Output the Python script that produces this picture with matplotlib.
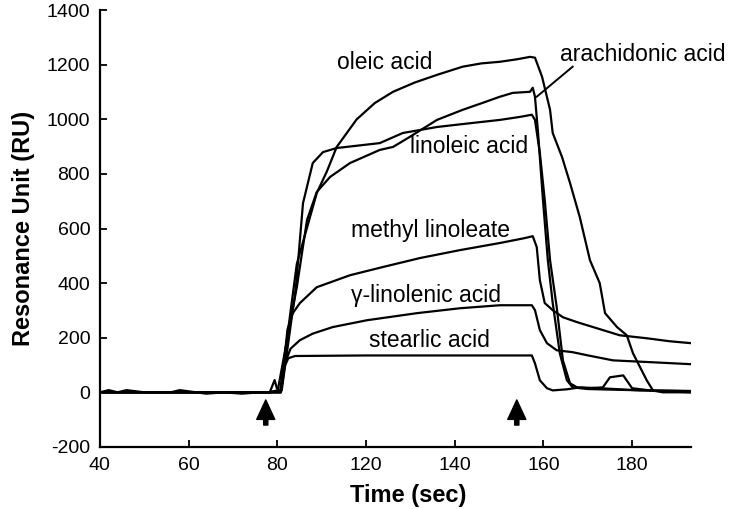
import matplotlib as mpl
import matplotlib.pyplot as plt

mpl.rcParams['font.family'] = ['Liberation Sans', 'DejaVu Sans']
mpl.rcParams['xtick.labelsize'] = 14
mpl.rcParams['ytick.labelsize'] = 14
mpl.rcParams['axes.unicode_minus'] = False

# sensorgram traces (time along the plotted axis, resonance units)
t_oleic = [40, 42, 44, 46, 50, 56, 58, 64, 68, 72, 76, 80.6, 84.4, 88.9, 91.2, 93.4, 97.9, 102,
           106.1, 111, 116, 121.8, 126, 130.2, 134, 137.0, 138.1, 139.7, 141.5, 142.1, 144.2,
           146.0, 148.2, 150.5, 152.7, 153.9, 156.6, 158.8, 160.2, 163.3, 164.7, 166.9, 173.3]
ru_oleic = [0, 8, 0, 8, 0, 0, 8, -5, 0, -5, 0, 0, 470, 730, 810, 899, 1000, 1060,
            1101, 1135, 1163, 1193, 1205, 1211, 1220, 1229, 1226, 1156, 1035, 950, 862,
            767, 642, 484, 400, 290, 239, 209, 143, 44, 7, 0, 0]

t_arach = [40, 78, 80.1, 84.4, 86.7, 88.9, 91.9, 96.4, 103.1, 106.1, 109.9, 116.0, 121.8, 126.4,
           130.2, 133.1, 137.0, 137.6, 138.1, 138.8, 139.9, 141.0, 142.1, 143.7, 145.3, 146.6,
           150, 160, 173.3]
ru_arach = [0, 0, 7, 385, 631, 734, 789, 840, 888, 899, 936, 998, 1035, 1061,
            1083, 1097, 1101, 1116, 1083, 950, 705, 484, 327, 143, 44, 18,
            12, 8, 5]

t_linol = [40, 78, 81.0, 84.2, 85.8, 88.0, 90.3, 93.4, 103.1, 108.3, 116, 123, 130.2, 134.7,
           137.4, 138.1, 139.2, 140.3, 141.5, 143.0, 144.4, 146.0, 147.6, 150, 153.4, 155.0,
           158.0, 160.0, 165, 173.3]
ru_linol = [0, 0, 7, 385, 693, 840, 880, 895, 913, 950, 972, 985, 998, 1009,
            1017, 998, 877, 705, 484, 312, 117, 33, 18, 15, 18, 55,
            62, 15, 5, 0]

t_methyl = [40, 78, 80.8, 82.3, 83.5, 85.1, 88.9, 96.4, 103.8, 112.2, 121.2, 130.2, 135.8, 137.6,
            138.5, 139.2, 140.3, 142.1, 144.4, 147.6, 151.2, 157.2, 163.3, 168.5, 173.3]
ru_methyl = [0, 0, 0, 230, 290, 327, 385, 429, 459, 492, 521, 547, 565, 572,
             532, 411, 327, 301, 275, 257, 239, 209, 198, 187, 180]

t_gamma = [40, 78.3, 79.4, 79.9, 80.8, 81.8, 83.0, 85.1, 88, 92.5, 100.2, 111.5, 121.2, 130.2,
           137.4, 138.1, 139.2, 140.8, 143.0, 146.6, 149.8, 155.7, 164.7, 173.3]
ru_gamma = [0, 0, 45, 15, 0, 110, 160, 191, 215, 239, 264, 290, 308, 319,
            319, 301, 228, 180, 154, 147, 136, 117, 110, 103]

t_stear = [40, 78, 80.8, 81.5, 82.5, 84, 100, 120, 137.4, 138.1, 139.2, 140.8, 142.1, 145.3,
           148.2, 152.7, 161.8, 173.3]
ru_stear = [0, 0, 0, 90, 125, 133, 135, 135, 135, 106, 44, 15, 7, 11,
            18, 15, 7, 4]

xticks = [40, 60, 80, 100, 120, 140, 160]
xticklabels = ['40', '60', '80', '120', '140', '160', '180']
yticks = [-200, 0, 200, 400, 600, 800, 1000, 1200, 1400]
injections = [77.4, 134.0]

fig = plt.figure(figsize=(7.29, 5.09), dpi=100)
ax = fig.add_axes([0.137, 0.122, 0.811, 0.858])

for t, ru in [(t_oleic, ru_oleic), (t_arach, ru_arach), (t_linol, ru_linol),
              (t_methyl, ru_methyl), (t_gamma, ru_gamma), (t_stear, ru_stear)]:
  ax.plot(t, ru, 'k-', lw=1.6)

# labels
ax.text(104.3, 1207, 'oleic acid', fontsize=16.5, ha='center', va='center')
ax.text(162.5, 1237, 'arachidonic acid', fontsize=16.5, ha='center', va='center')
ax.plot([138.5, 146.6], [1083, 1193], 'k-', lw=1.4)
ax.text(123.2, 899, 'linoleic acid', fontsize=16.5, ha='center', va='center')
ax.text(114.6, 594, 'methyl linoleate', fontsize=16.5, ha='center', va='center')
ax.text(113.5, 356, '\u03b3-linolenic acid', fontsize=16.5, ha='center', va='center')
ax.text(114.4, 191, 'stearlic acid', fontsize=16.5, ha='center', va='center')

# injection arrows
for x in injections:
  ax.annotate('', xy=(x, -28), xytext=(x, -120),
              arrowprops=dict(facecolor='black', edgecolor='black', width=3,
                              headwidth=13, headlength=14, shrink=0))

ax.set_xlim(40, 173.3)
ax.set_ylim(-200, 1400)
ax.set_xticks(xticks)
ax.set_xticklabels(xticklabels)
ax.set_yticks(yticks)
ax.tick_params(direction='in', length=5, width=1.3, pad=7)
ax.spines['top'].set_visible(False)
ax.spines['right'].set_visible(False)
ax.spines['left'].set_linewidth(1.6)
ax.spines['bottom'].set_linewidth(1.6)
ax.set_xlabel('Time (sec)', fontsize=17, fontweight='bold')
ax.set_ylabel('Resonance Unit (RU)', fontsize=17, fontweight='bold')
ax.xaxis.set_label_coords(0.521, -0.085)
ax.yaxis.set_label_coords(-0.11, 0.5)

plt.savefig('out.png', dpi=100)
